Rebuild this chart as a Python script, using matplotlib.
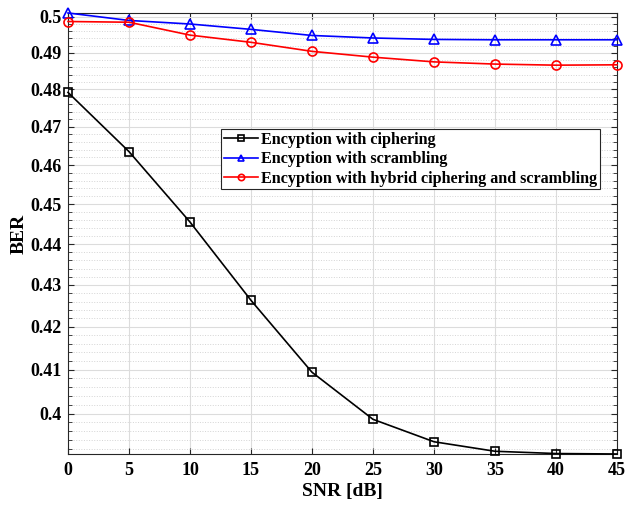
#!/usr/bin/env python3
"""BER vs SNR for the three encryption schemes (MATLAB-style semilogy)."""

import matplotlib
matplotlib.use("Agg")
import matplotlib.pyplot as plt
import matplotlib.ticker as mticker
import numpy as np

# ── Data ─────────────────────────────────────────────────────────────────────

snr_db = [0, 5, 10, 15, 20, 25, 30, 35, 40, 45]

ber_ciphering = [0.4792, 0.4635, 0.4455, 0.4263, 0.4094,
                 0.3987, 0.3937, 0.3916, 0.3911, 0.3910]
ber_scrambling = [0.5011, 0.4990, 0.4980, 0.4965, 0.4948,
                  0.4941, 0.4937, 0.4936, 0.4936, 0.4936]
ber_hybrid = [0.4987, 0.4985, 0.4949, 0.4929, 0.4904,
              0.4888, 0.4875, 0.4869, 0.4866, 0.4867]

labels = ["Encyption with ciphering",
          "Encyption with scrambling",
          "Encyption with hybrid ciphering and scrambling"]

y_major = [0.40, 0.41, 0.42, 0.43, 0.44, 0.45, 0.46, 0.47, 0.48, 0.49, 0.50]
x_ticks = [0, 5, 10, 15, 20, 25, 30, 35, 40, 45]

# ── Style ────────────────────────────────────────────────────────────────────

plt.rcParams["font.family"] = ["Liberation Serif", "DejaVu Serif"]
plt.rcParams["font.weight"] = "bold"
AX_COLOR = "#262626"

fig = plt.figure(figsize=(6.25, 5.05), dpi=100)
ax = fig.add_axes([0.1088, 0.1010, 0.8784, 0.8733])

common = dict(lw=1.2, mfc="none", mew=1.2, clip_on=False, zorder=3)
ax.semilogy(snr_db, ber_ciphering, "-s", color="black", ms=5.5,
            label=labels[0], **common)
ax.semilogy(snr_db, ber_scrambling, "-^", color="blue", ms=6.5,
            label=labels[1], **common)
ax.semilogy(snr_db, ber_hybrid, "-o", color="red", ms=6.5,
            label=labels[2], **common)

all_vals = ber_ciphering + ber_scrambling + ber_hybrid
ax.set_xlim(0, 45)
ax.set_ylim(min(all_vals), max(all_vals))

# ticks
ax.xaxis.set_major_locator(mticker.FixedLocator(x_ticks))
ax.xaxis.set_minor_locator(mticker.NullLocator())
ax.yaxis.set_major_locator(mticker.FixedLocator(y_major))
y_minor = [v for v in np.arange(0.388, 0.502, 0.002)
           if min(abs(v - m) for m in y_major) > 1e-6]
ax.yaxis.set_minor_locator(mticker.FixedLocator(y_minor))
ax.yaxis.set_major_formatter(mticker.FuncFormatter(lambda v, _: f"{v:g}"))
ax.yaxis.set_minor_formatter(mticker.NullFormatter())

ax.tick_params(which="both", direction="in", top=True, right=True,
               color=AX_COLOR, labelsize=13)
ax.tick_params(which="major", length=4.5, width=0.8)
ax.tick_params(which="minor", length=3, width=0.6)
ax.tick_params(axis="x", pad=6)
ax.tick_params(axis="y", pad=4.5)
for lbl in ax.get_xticklabels() + ax.get_yticklabels():
    lbl.set_fontweight("bold")

for sp in ax.spines.values():
    sp.set_color(AX_COLOR)
    sp.set_linewidth(0.8)

# grid
ax.set_axisbelow(True)
ax.grid(which="major", color="#dcdcdc", linestyle="-", linewidth=0.8)
ax.grid(which="minor", axis="y", color="#d4d4d4", linestyle=":", linewidth=0.7)

ax.set_xlabel("SNR [dB]", fontsize=14, fontweight="bold", labelpad=3)
ax.set_ylabel("BER", fontsize=14, fontweight="bold", labelpad=2)

leg = ax.legend(loc="upper left", bbox_to_anchor=(0.2787, 0.7365),
                prop={"family": ["Liberation Serif"], "weight": "bold",
                      "size": 11.6},
                frameon=True, fancybox=False, edgecolor=AX_COLOR,
                framealpha=1, borderpad=0.18, borderaxespad=0,
                handlelength=2.1, handletextpad=0.18, labelspacing=0.2,
                markerscale=0.7)
leg.get_frame().set_linewidth(0.8)

fig.savefig("out.png", dpi=100)
plt.close(fig)
print("Saved: out.png")
